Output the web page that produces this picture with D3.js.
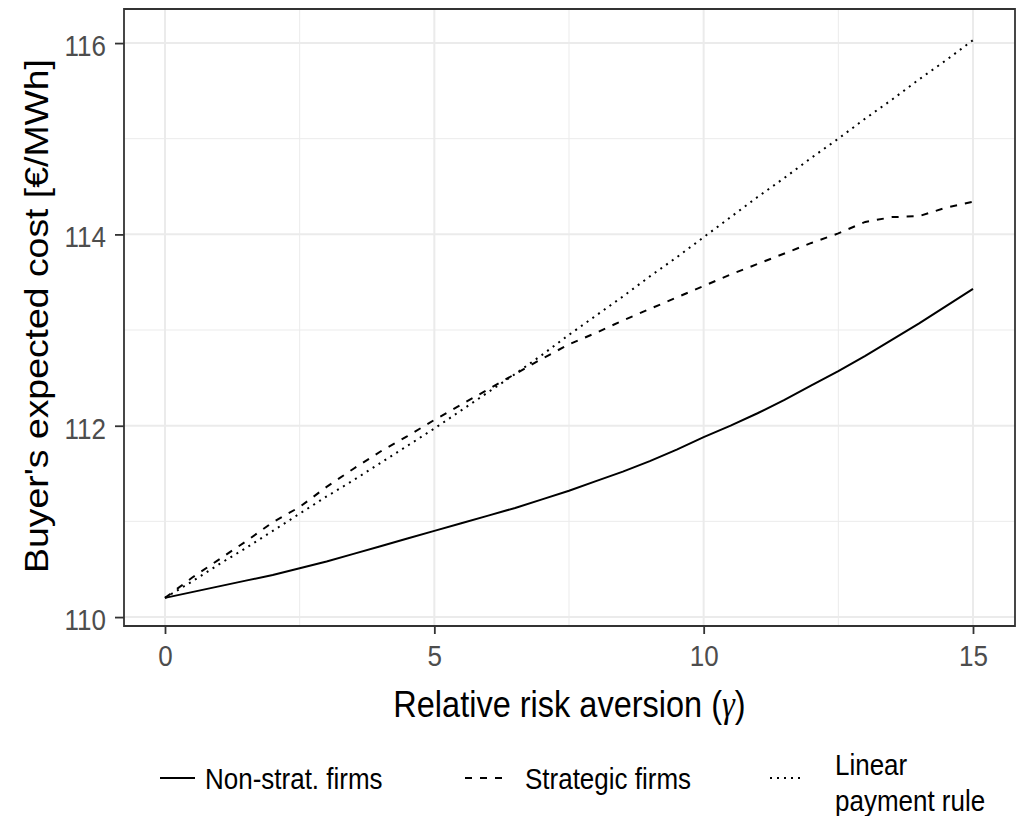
<!DOCTYPE html>
<html>
<head>
<meta charset="utf-8">
<script src="https://cdn.jsdelivr.net/npm/d3@7"></script>
<style>
  body { margin: 0; background: #fff; }
  svg { display: block; }
  .tick text { font-family: "Liberation Sans", Arial, sans-serif; fill: #4d4d4d; }
</style>
</head>
<body>
<div id="chart"></div>
<script>
// data
var gamma = [0, 0.5, 1, 1.5, 2, 2.5, 3, 3.5, 4, 4.5, 5, 5.5, 6, 6.5, 7, 7.5,
             8, 8.5, 9, 9.5, 10, 10.5, 11, 11.5, 12, 12.5, 13, 13.5, 14, 14.5, 15];
var nonStrat = [110.20, 110.26, 110.32, 110.38, 110.44, 110.51, 110.58, 110.66, 110.74, 110.82,
                110.90, 110.98, 111.06, 111.14, 111.23, 111.32, 111.42, 111.52, 111.63, 111.75,
                111.88, 112.00, 112.13, 112.27, 112.42, 112.57, 112.73, 112.90, 113.07, 113.25, 113.43];
var strategic = [110.20, 110.41, 110.60, 110.79, 110.99, 111.15, 111.36, 111.55, 111.73, 111.89,
                 112.06, 112.22, 112.38, 112.54, 112.70, 112.85, 112.97, 113.10, 113.22, 113.34,
                 113.46, 113.58, 113.69, 113.80, 113.91, 114.01, 114.13, 114.18, 114.19, 114.28, 114.34];
var linearRule = [110.20, 110.37, 110.55, 110.72, 110.90, 111.08, 111.26, 111.43, 111.61, 111.79,
                  111.97, 112.16, 112.35, 112.54, 112.74, 112.95, 113.15, 113.35, 113.56, 113.76,
                  113.97, 114.18, 114.39, 114.59, 114.80, 115.00, 115.21, 115.41, 115.62, 115.82, 116.03];
var xTicks = [0, 5, 10, 15];
var xMinor = [2.5, 7.5, 12.5];
var yTicks = [110, 112, 114, 116];
var yMinor = [111, 113, 115];
var seriesNames = ["Non-strat. firms", "Strategic firms", "Linear payment rule"];

// the reference is a little stretched vertically, so draw in a squashed viewBox
var SY = 1.15;
var W = 1023, H = 816 / SY;
function py(v) { return v / SY; }

var panel = {left: 124, right: 1015, top: py(9), bottom: py(626)};

var x = d3.scaleLinear().domain([0, 15]).range([165, 973]);
var y = d3.scaleLinear().domain([110, 116]).range([py(617), py(43)]);

var svg = d3.select("#chart").append("svg")
    .attr("width", 1023)
    .attr("height", 816)
    .attr("viewBox", "0 0 " + W + " " + H)
    .attr("preserveAspectRatio", "none");

// grid
var grid = svg.append("g");
grid.selectAll(".vminor").data(xMinor).enter().append("line")
    .attr("x1", d => x(d)).attr("x2", d => x(d))
    .attr("y1", panel.top).attr("y2", panel.bottom)
    .attr("stroke", "#ebebeb").attr("stroke-width", 1).attr("vector-effect", "non-scaling-stroke");
grid.selectAll(".hminor").data(yMinor).enter().append("line")
    .attr("x1", panel.left).attr("x2", panel.right)
    .attr("y1", d => y(d)).attr("y2", d => y(d))
    .attr("stroke", "#ebebeb").attr("stroke-width", 1).attr("vector-effect", "non-scaling-stroke");
grid.selectAll(".vmajor").data(xTicks).enter().append("line")
    .attr("x1", d => x(d)).attr("x2", d => x(d))
    .attr("y1", panel.top).attr("y2", panel.bottom)
    .attr("stroke", "#ebebeb").attr("stroke-width", 2).attr("vector-effect", "non-scaling-stroke");
grid.selectAll(".hmajor").data(yTicks).enter().append("line")
    .attr("x1", panel.left).attr("x2", panel.right)
    .attr("y1", d => y(d)).attr("y2", d => y(d))
    .attr("stroke", "#ebebeb").attr("stroke-width", 2).attr("vector-effect", "non-scaling-stroke");

// lines
var line = d3.line()
    .x((d, i) => x(gamma[i]))
    .y(d => y(d));

var styles = [null, "7,8", "2,5"];
[nonStrat, strategic, linearRule].forEach(function(s, k) {
  svg.append("path")
    .datum(s)
    .attr("d", line)
    .attr("fill", "none")
    .attr("stroke", "#000")
    .attr("stroke-width", 2)
    .attr("stroke-dasharray", styles[k])
    .attr("vector-effect", "non-scaling-stroke");
});

// panel border
svg.append("rect")
    .attr("x", panel.left).attr("y", panel.top)
    .attr("width", panel.right - panel.left)
    .attr("height", panel.bottom - panel.top)
    .attr("fill", "none").attr("stroke", "#333").attr("stroke-width", 1.8)
    .attr("vector-effect", "non-scaling-stroke");

// axes
var xAxis = svg.append("g")
    .attr("transform", "translate(0," + panel.bottom + ")")
    .call(d3.axisBottom(x).tickValues(xTicks).tickSize(py(8)).tickPadding(py(11)).tickFormat(d3.format("d")));
var yAxis = svg.append("g")
    .attr("transform", "translate(" + panel.left + ",0)")
    .call(d3.axisLeft(y).tickValues(yTicks).tickSize(9).tickPadding(9).tickFormat(d3.format("d")));

[xAxis, yAxis].forEach(function(a) {
  a.select(".domain").remove();
  a.selectAll(".tick line").attr("stroke", "#333").attr("stroke-width", 1.8)
    .attr("vector-effect", "non-scaling-stroke");
  a.selectAll(".tick text").attr("font-size", 26);
});
yAxis.selectAll(".tick text").attr("dy", "0.42em");

// axis titles
var xt = svg.append("text")
    .attr("x", (panel.left + panel.right) / 2)
    .attr("y", py(717))
    .attr("text-anchor", "middle")
    .attr("font-family", "Liberation Sans, Arial, sans-serif")
    .attr("font-size", 32.5)
    .attr("fill", "#000");
xt.append("tspan").text("Relative risk aversion (");
xt.append("tspan").attr("font-family", "Liberation Serif, serif").attr("font-style", "italic").text("γ");
xt.append("tspan").text(")");

svg.append("text")
    .attr("transform", "translate(48," + py(316) + ") rotate(-90)")
    .attr("text-anchor", "middle")
    .attr("font-family", "Liberation Sans, Arial, sans-serif")
    .attr("font-size", 32.5)
    .attr("fill", "#000")
    .text("Buyer's expected cost [€/MWh]");

// legend
var legend = [
  {x1: 160, x2: 195, tx: 205, dash: styles[0], lines: [seriesNames[0]]},
  {x1: 465, x2: 505, tx: 525, dash: styles[1], lines: [seriesNames[1]]},
  {x1: 770, x2: 800, tx: 835, dash: styles[2], lines: ["Linear", "payment rule"]}
];
legend.forEach(function(l) {
  svg.append("line")
    .attr("x1", l.x1).attr("x2", l.x2)
    .attr("y1", py(778)).attr("y2", py(778))
    .attr("stroke", "#000").attr("stroke-width", 2)
    .attr("stroke-dasharray", l.dash)
    .attr("vector-effect", "non-scaling-stroke");
  var t = svg.append("text")
    .attr("font-family", "Liberation Sans, Arial, sans-serif")
    .attr("font-size", 26)
    .attr("fill", "#000");
  if (l.lines.length == 1) {
    t.append("tspan").attr("x", l.tx).attr("y", py(789)).text(l.lines[0]);
  } else {
    t.append("tspan").attr("x", l.tx).attr("y", py(775)).text(l.lines[0]);
    t.append("tspan").attr("x", l.tx).attr("y", py(811)).text(l.lines[1]);
  }
});
</script>
</body>
</html>
